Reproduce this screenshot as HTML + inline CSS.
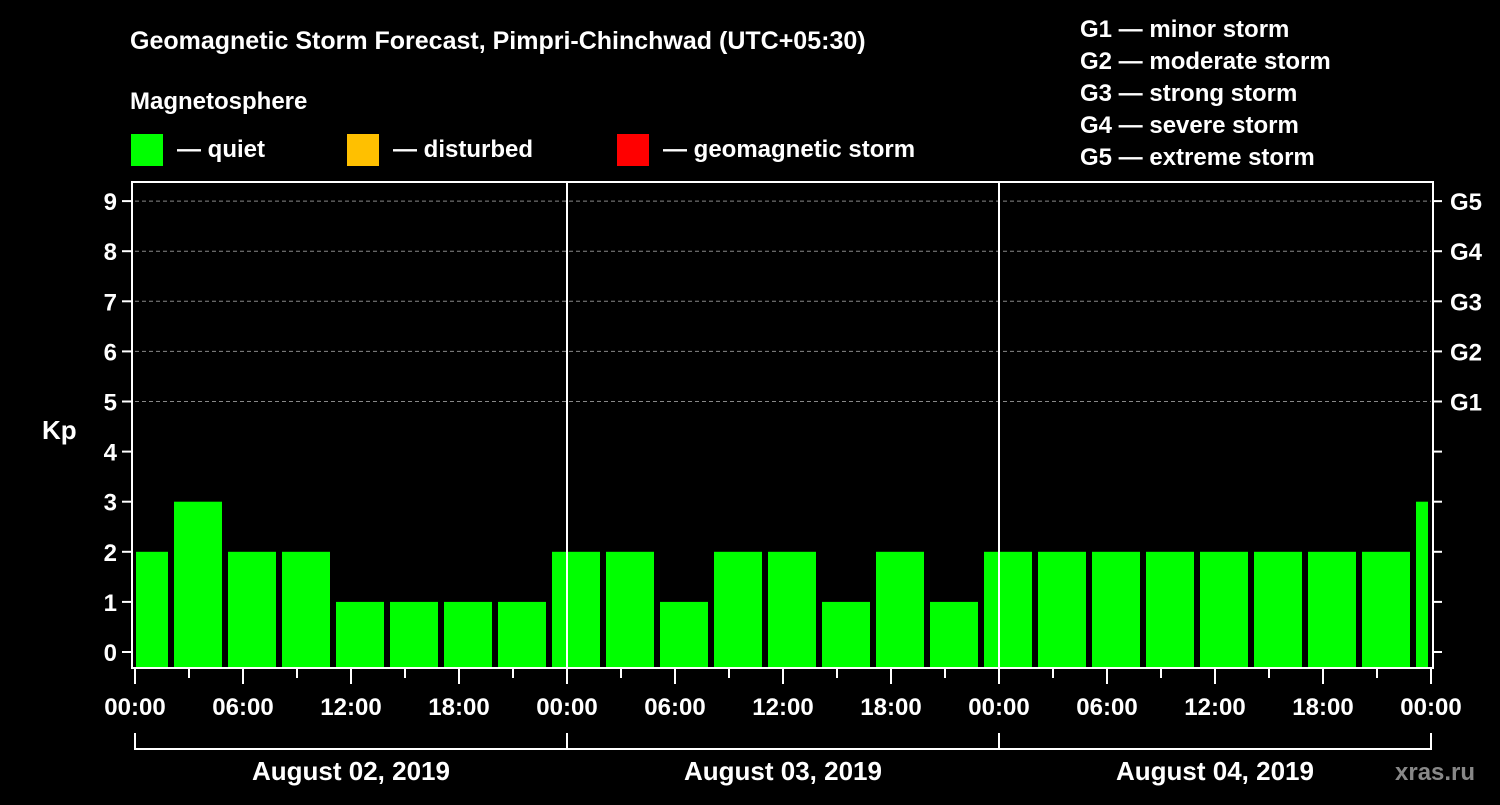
<!DOCTYPE html>
<html><head><meta charset="utf-8"><style>
body{margin:0;background:#000;}
svg text{font-family:"Liberation Sans",sans-serif;font-weight:bold;fill:#fff;}
</style></head><body>
<svg width="1500" height="800" viewBox="0 0 1500 800">
<rect width="1500" height="800" fill="#000"/>
<text x="130" y="49" font-size="25">Geomagnetic Storm Forecast, Pimpri-Chinchwad (UTC+05:30)</text>
<text x="130" y="109" font-size="24">Magnetosphere</text>
<g><rect x="131" y="134" width="32" height="32" fill="#00ff00"/><text x="177" y="157" font-size="24">— quiet</text></g>
<g><rect x="347" y="134" width="32" height="32" fill="#ffc000"/><text x="393" y="157" font-size="24">— disturbed</text></g>
<g><rect x="617" y="134" width="32" height="32" fill="#ff0000"/><text x="663" y="157" font-size="24">— geomagnetic storm</text></g>
<g font-size="24">
<text x="1080" y="37">G1 — minor storm</text>
<text x="1080" y="69">G2 — moderate storm</text>
<text x="1080" y="101">G3 — strong storm</text>
<text x="1080" y="133">G4 — severe storm</text>
<text x="1080" y="165">G5 — extreme storm</text>
</g>
<text x="42" y="439" font-size="26">Kp</text>
<text x="1395" y="780" font-size="24" style="fill:#888">xras.ru</text>
<g id="plot"></g>
</svg>
<script>
const kpValues=[2,3,2,2,1,1,1,1,2,2,1,2,2,1,2,1,2,2,2,2,2,2,2,2,3];
const yTicks=[0,1,2,3,4,5,6,7,8,9];
const gLabels=["G1","G2","G3","G4","G5"];
const xTickLabels=["00:00","06:00","12:00","18:00","00:00","06:00","12:00","18:00","00:00","06:00","12:00","18:00","00:00"];
const dayLabels=["August 02, 2019","August 03, 2019","August 04, 2019"];
const NS="http://www.w3.org/2000/svg";
const g=document.getElementById('plot');
const L=135,R=1431,T=182,B=668;
const yS=v=>652-v*50.1;
const xH=h=>L+h*18;
function mk(t,a,txt){const e=document.createElementNS(NS,t);for(const k in a)e.setAttribute(k,a[k]);if(txt!==undefined)e.textContent=txt;g.appendChild(e);return e;}
// grid
yTicks.filter(v=>v>=5).forEach(v=>{const e=mk('line',{x1:L,x2:R,y1:yS(v),y2:yS(v),stroke:'#888','stroke-dasharray':'4,3','stroke-width':1});

});
// bars
kpValues.forEach((v,i)=>{let x0=xH(2+3*(i-1))+3,x1=x0+48;x0=Math.max(x0,136);x1=Math.min(x1,1428);
const e=mk('rect',{x:x0,y:yS(v),width:x1-x0,height:667-yS(v),fill:'#00ff00'});

});
// day separators
[1,2].forEach(d=>{const e=mk('line',{x1:xH(24*d),x2:xH(24*d),y1:T,y2:B,stroke:'#fff','stroke-width':2});

});
// frame
const fr=mk('rect',{x:132,y:T,width:1301,height:B-T,fill:'none',stroke:'#fff','stroke-width':2});


// y ticks
yTicks.forEach(v=>{mk('line',{x1:122,x2:132,y1:yS(v),y2:yS(v),stroke:'#fff','stroke-width':2});
mk('line',{x1:1433,x2:1442,y1:yS(v),y2:yS(v),stroke:'#fff','stroke-width':2});
const t=mk('text',{x:117,y:yS(v)+9,'font-size':24,'text-anchor':'end'},String(v));

});
gLabels.forEach((s,i)=>{const t=mk('text',{x:1450,y:yS(5+i)+9,'font-size':24},s);

});
// x ticks
for(let h=0;h<=72;h+=3){const maj=h%6===0;mk('line',{x1:xH(h),x2:xH(h),y1:669,y2:maj?684:678,stroke:'#fff','stroke-width':2});}
xTickLabels.forEach((s,i)=>{const t=mk('text',{x:xH(i*6),y:715,'font-size':24,'text-anchor':'middle'},s);

});
// bracket
mk('line',{x1:L,x2:R,y1:749,y2:749,stroke:'#fff','stroke-width':2});
[0,1,2,3].forEach(d=>mk('line',{x1:xH(24*d),x2:xH(24*d),y1:733,y2:750,stroke:'#fff','stroke-width':2}));
dayLabels.forEach((s,i)=>{const t=mk('text',{x:xH(24*i+12),y:780,'font-size':26,'text-anchor':'middle'},s);

});
</script>
</body></html>
